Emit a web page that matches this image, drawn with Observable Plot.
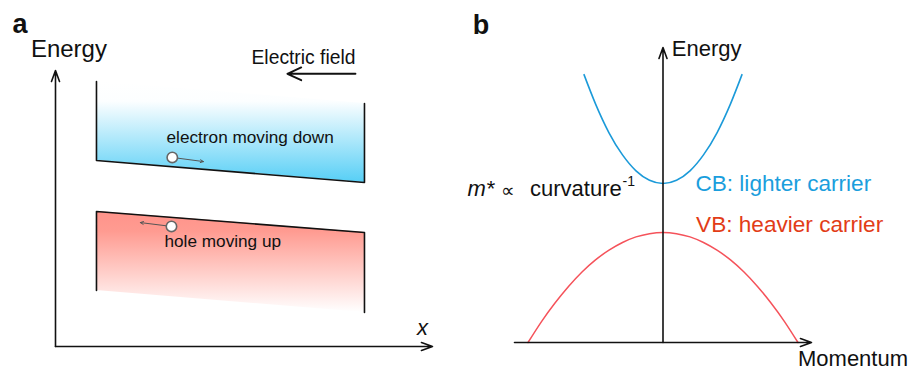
<!DOCTYPE html>
<html>
<head>
<meta charset="utf-8">
<script src="https://cdn.jsdelivr.net/npm/d3@7"></script>
<script src="https://cdn.jsdelivr.net/npm/@observablehq/plot@0.6"></script>
<style>
  html, body { margin: 0; padding: 0; background: #fff; }
  #wrap { display: flex; width: 913px; height: 371px; }
  #wrap svg { display: block; flex: none; }
</style>
</head>
<body>
<div id="wrap"></div>
<script>
// ---------- Panel a data (position vs energy, schematic units) ----------
const bandX = [1, 7.54];
const cbTop = [9.6, 8.8];
const cbBottom = [6.74, 5.94];
const vbTop = [4.89, 4.13];
const vbBottom = [2.03, 1.23];
const carriers = [
  {name: "electron", x: 2.85, E: 6.85, x2: 3.61, E2: 6.70},
  {name: "hole", x: 2.83, E: 4.35, x2: 2.07, E2: 4.49}
];
const panelALabels = ["a", "Energy", "Electric field", "electron moving down", "hole moving up", "x"];

// ---------- Panel b data (momentum vs energy) ----------
const cbK = [-0.585, -0.5, -0.4, -0.3, -0.2, -0.1, 0, 0.1, 0.2, 0.3, 0.4, 0.5, 0.585];
const cbE = [9.08, 8.09, 7.11, 6.36, 5.82, 5.50, 5.39, 5.50, 5.82, 6.36, 7.11, 8.09, 9.08];
const vbK = [-1, -0.9, -0.8, -0.7, -0.6, -0.5, -0.4, -0.3, -0.2, -0.1, 0, 0.1, 0.2, 0.3, 0.4, 0.5, 0.6, 0.7, 0.8, 0.9, 1];
const vbE = [0, 0.71, 1.34, 1.90, 2.39, 2.80, 3.13, 3.39, 3.58, 3.69, 3.73, 3.69, 3.58, 3.39, 3.13, 2.80, 2.39, 1.90, 1.34, 0.71, 0];
const panelBLabels = ["b", "Energy", "Momentum", "CB: lighter carrier", "VB: heavier carrier", "m*", "∝", "curvature", "-1"];

const FONT = "'Liberation Sans', Arial, Helvetica, sans-serif";

const bandRows = (top, bottom) => bandX.map((x, i) => ({x, top: top[i], bottom: bottom[i]}));
const cbRows = bandRows(cbTop, cbBottom);
const vbRows = bandRows(vbTop, vbBottom);
const cbOutline = [
  {x: bandX[0], E: cbTop[0]}, {x: bandX[0], E: cbBottom[0]},
  {x: bandX[1], E: cbBottom[1]}, {x: bandX[1], E: cbTop[1]}
];
const vbOutline = [
  {x: bandX[0], E: vbBottom[0]}, {x: bandX[0], E: vbTop[0]},
  {x: bandX[1], E: vbTop[1]}, {x: bandX[1], E: vbBottom[1]}
];

function lab(text, x, y, opts = {}) {
  return Plot.text([{text, x, y}], {
    x: "x", y: "y", text: "text",
    textAnchor: opts.anchor || "start", lineAnchor: "bottom",
    fontSize: opts.size || 17, fontWeight: opts.weight || "normal",
    fontStyle: opts.style || "normal", fill: opts.color || "#111",
    fontFamily: opts.family || FONT
  });
}

// ---------- Panel a ----------
const plotA = Plot.plot({
  width: 456, height: 371,
  marginLeft: 55, marginRight: 24, marginTop: 70, marginBottom: 25,
  x: {domain: [0, 9.2], axis: null},
  y: {domain: [0, 10], axis: null},
  style: {fontFamily: FONT, overflow: "visible", background: "#fff"},
  marks: [
    Plot.areaY(cbRows, {x: "x", y1: "bottom", y2: "top", fill: "url(#cbGrad)"}),
    Plot.areaY(vbRows, {x: "x", y1: "bottom", y2: "top", fill: "url(#vbGrad)"}),
    Plot.line(cbOutline, {x: "x", y: "E", stroke: "#111", strokeWidth: 1.6}),
    Plot.line(vbOutline, {x: "x", y: "E", stroke: "#111", strokeWidth: 1.6}),
    Plot.arrow(carriers, {x1: "x", y1: "E", x2: "x2", y2: "E2", stroke: "#555", strokeWidth: 1, headLength: 5, headAngle: 50}),
    Plot.dot(carriers, {x: "x", y: "E", r: 5.2, fill: "#fff", stroke: "#666", strokeWidth: 1.6}),
    // axes
    Plot.arrow([{x1: 0, y1: 0, x2: 0, y2: 10}, {x1: 0, y1: 0, x2: 9.2, y2: 0}],
      {x1: "x1", y1: "y1", x2: "x2", y2: "y2", stroke: "#111", strokeWidth: 1.6, headLength: 11, headAngle: 40}),
    // electric field arrow
    Plot.arrow([{x1: 7.32, y1: 9.88, x2: 5.66, y2: 9.88}],
      {x1: "x1", y1: "y1", x2: "x2", y2: "y2", stroke: "#111", strokeWidth: 1.9, headLength: 12, headAngle: 50}),
    lab(panelALabels[0], -1.05, 11.35, {size: 27, weight: "bold"}),
    lab(panelALabels[1], -0.6, 10.5, {size: 24}),
    lab(panelALabels[2], 7.32, 10.25, {size: 19.3, anchor: "end"}),
    lab(panelALabels[3], 2.71, 7.36, {size: 17.2}),
    lab(panelALabels[4], 2.66, 3.6, {size: 17.2}),
    lab(panelALabels[5], 8.82, 0.42, {size: 22, style: "italic"})
  ]
});

// ---------- Panel b ----------
const cbRowsB = cbK.map((k, i) => ({k, E: cbE[i]}));
const vbRowsB = vbK.map((k, i) => ({k, E: vbE[i]}));
const plotB = Plot.plot({
  width: 457, height: 371,
  marginLeft: 58, marginRight: 102, marginTop: 47, marginBottom: 29,
  x: {domain: [-1.1, 1.1], axis: null},
  y: {domain: [0, 10], axis: null},
  style: {fontFamily: FONT, overflow: "visible", background: "#fff"},
  marks: [
    Plot.line(vbRowsB, {x: "k", y: "E", stroke: "#f5525a", strokeWidth: 1.5, curve: "natural"}),
    Plot.line(cbRowsB, {x: "k", y: "E", stroke: "#1b9ad9", strokeWidth: 1.6, curve: "natural"}),
    Plot.arrow([{x1: 0, y1: 0, x2: 0, y2: 10}, {x1: -1.1, y1: 0, x2: 1.1, y2: 0}],
      {x1: "x1", y1: "y1", x2: "x2", y2: "y2", stroke: "#111", strokeWidth: 1.6, headLength: 11, headAngle: 40}),
    lab(panelBLabels[0], -1.41, 10.45, {size: 27, weight: "bold"}),
    lab(panelBLabels[1], 0.065, 9.7, {size: 22}),
    lab(panelBLabels[2], 1.0, -0.81, {size: 22}),
    lab(panelBLabels[3], 0.24, 5.12, {size: 22.6, color: "#1a9edd"}),
    lab(panelBLabels[4], 0.245, 3.76, {size: 22.6, color: "#e23c17"}),
    lab(panelBLabels[5], -1.448, 4.96, {size: 22, style: "italic"}),
    lab(panelBLabels[6], -1.2, 4.92, {size: 19}),
    lab(panelBLabels[7], -0.985, 4.96, {size: 22}),
    lab(panelBLabels[8], -0.3, 5.3, {size: 14})
  ]
});

// gradients for band fills
const defs = d3.select(plotA).insert("defs", ":first-child");
const g1 = defs.append("linearGradient").attr("id", "cbGrad").attr("x1", 0).attr("y1", 0).attr("x2", 0).attr("y2", 1);
g1.append("stop").attr("offset", 0).attr("stop-color", "#ffffff");
g1.append("stop").attr("offset", 0.2).attr("stop-color", "#fcfeff");
g1.append("stop").attr("offset", 1).attr("stop-color", "#57cff6");
const g2 = defs.append("linearGradient").attr("id", "vbGrad").attr("x1", 0).attr("y1", 0).attr("x2", 0).attr("y2", 1);
g2.append("stop").attr("offset", 0).attr("stop-color", "#ff938a");
g2.append("stop").attr("offset", 0.2).attr("stop-color", "#ff9b91");
g2.append("stop").attr("offset", 1).attr("stop-color", "#ffffff");

const wrap = document.getElementById("wrap");
wrap.appendChild(plotA);
wrap.appendChild(plotB);
</script>
</body>
</html>
